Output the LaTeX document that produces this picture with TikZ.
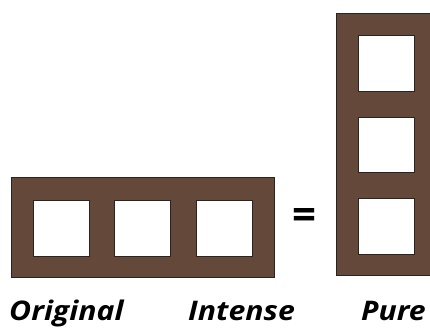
\documentclass[tikz,border=0pt]{standalone}
\usepackage{fontspec}
\setmainfont{Open Sans}
\newfontfamily\lblfont[FakeStretch=1.12]{Open Sans}
\definecolor{brownfill}{RGB}{100,73,58}
\definecolor{edge}{RGB}{40,36,34}
\begin{document}
\begin{tikzpicture}[x=1pt,y=-1pt,
  frame/.style={fill=brownfill,draw=edge,line width=0.9pt},
  hole/.style={fill=white,draw=edge,line width=0.9pt},
  lbl/.style={font=\lblfont\fontsize{27}{30}\selectfont\bfseries\itshape,anchor=base west,inner sep=0pt},
  eqs/.style={font=\fontsize{42}{44}\selectfont\bfseries,inner sep=0pt}]
\useasboundingbox (0,0) rectangle (430,334);
\clip (0,0) rectangle (430,334);
% original (horizontal)
\draw[frame] (11,177) rectangle (274,277);
\draw[hole] (33,200) rectangle (89,256);
\draw[hole] (114,200) rectangle (170,256);
\draw[hole] (196,200) rectangle (252,256);
% pure (vertical)
\draw[frame] (336,13) rectangle (437,275);
\draw[hole] (358,35) rectangle (414,91);
\draw[hole] (358,117) rectangle (414,172);
\draw[hole] (358,198) rectangle (414,254);
% equals
\node[eqs] (eq) at (304.5,218.5) {=};
% labels
\node[lbl] (orig) at (9,320) {Original};
\node[lbl] (int) at (188,320) {Intense};
\node[lbl,anchor=base east] (pure) at (426,320) {Pure};
\end{tikzpicture}
\end{document}
